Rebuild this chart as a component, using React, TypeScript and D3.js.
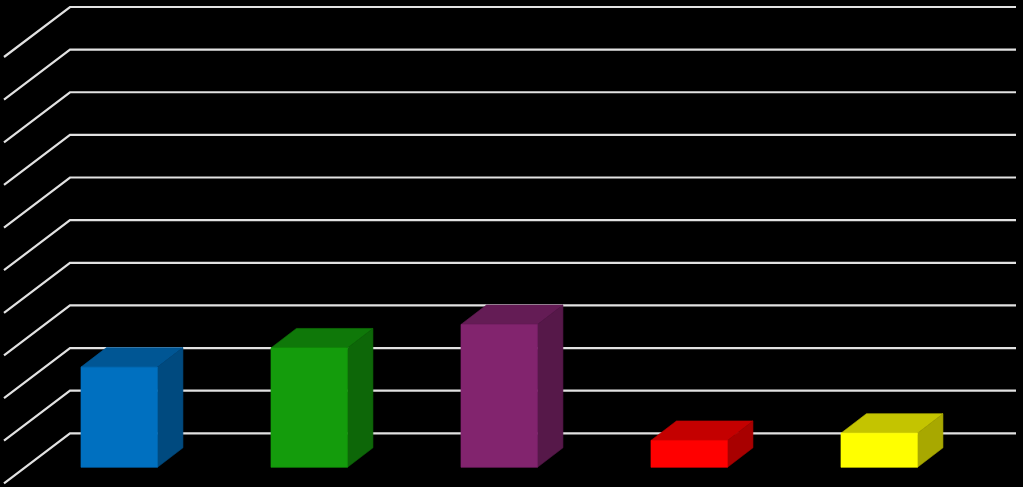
import { scaleBand, scaleLinear, range, color } from "d3";

const categories = ["A", "B", "C", "D", "E"];
const values = [2.35, 2.8, 3.35, 0.63, 0.8];
const barColors = ["#0070c0", "#149c0c", "#82246e", "#ff0000", "#ffff00"];
const ticks = range(0, 11);

const W = 1023;
const H = 487;

// back wall position of the 3d box, the floor goes down and left from it
const wallDx = -66;
const wallDy = 50;
// depth of one bar
const barDx = 25.5;
const barDy = -19.5;
// front of the bars sits this far from the back wall
const frontDy = 34;

const shade = (c: string, k: number) => {
  const rgb = color(c)!.rgb();
  return `rgb(${rgb.r * k},${rgb.g * k},${rgb.b * k})`;
};

export default function App() {
  const scaleY = scaleLinear().domain([0, 10]).range([433.3, 7]);
  const scaleX = scaleBand()
    .domain(categories)
    .range([24.2, 974.2])
    .paddingInner(0.5975)
    .paddingOuter(0.29875);

  const lineLeft = 70;
  const lineRight = 1016;

  return (
    <svg
      width={W}
      height={H}
      style={{ position: "fixed", left: 0, top: 0, display: "block", background: "#000" }}
    >
      <g fill="none" stroke="#e2e2e2" strokeWidth={2.2}>
        {ticks.map((t) => (
          <path
            key={`grid-${t}`}
            d={`M${lineLeft + wallDx},${scaleY(t) + wallDy}L${lineLeft},${scaleY(t)}L${lineRight},${scaleY(t)}`}
          />
        ))}
      </g>
      {categories.map((c, i) => {
        const x0 = scaleX(c)!;
        const x1 = x0 + scaleX.bandwidth();
        const top = scaleY(values[i]) + frontDy;
        const bottom = scaleY(0) + frontDy;
        const topColor = shade(barColors[i], 0.77);
        const sideColor = shade(barColors[i], 0.66);
        return (
          <g key={`bar-${c}`} strokeWidth={0.6} strokeLinejoin="round">
            {/* thin stroke closes the seam between the faces */}
            <path
              d={`M${x0},${top}L${x0 + barDx},${top + barDy}L${x1 + barDx},${top + barDy}L${x1},${top}Z`}
              fill={topColor}
              stroke={topColor}
            />
            <path
              d={`M${x1},${top}L${x1 + barDx},${top + barDy}L${x1 + barDx},${bottom + barDy}L${x1},${bottom}Z`}
              fill={sideColor}
              stroke={sideColor}
            />
            <rect
              x={x0}
              y={top}
              width={x1 - x0}
              height={bottom - top}
              fill={barColors[i]}
              stroke={barColors[i]}
            />
          </g>
        );
      })}
    </svg>
  );
}
